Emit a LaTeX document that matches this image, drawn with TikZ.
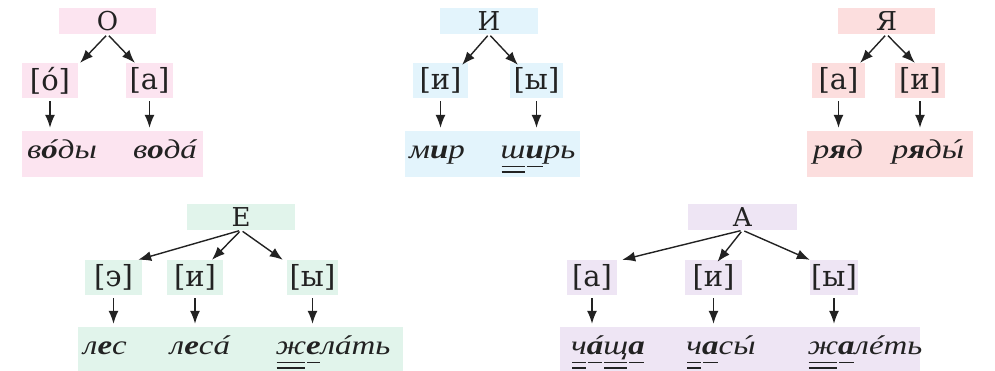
\documentclass[tikz,border=0pt]{standalone}
\usepackage{fontspec}
\setmainfont{DejaVu Serif}
\newfontfamily\wordfont[FakeStretch=1.22]{Liberation Serif}
\usepackage{xcolor}
\usepackage{tikz}
\usetikzlibrary{arrows.meta,positioning}

\definecolor{ink}{HTML}{222222}
\definecolor{pinkbg}{HTML}{FCE4F0}
\definecolor{bluebg}{HTML}{E3F4FC}
\definecolor{redbg}{HTML}{FCDEDE}
\definecolor{greenbg}{HTML}{E1F4EB}
\definecolor{lilacbg}{HTML}{EEE5F4}

\newcommand\lsz{\fontsize{26}{30}\selectfont}
\newcommand\ssz{\fontsize{29}{33}\selectfont}
\newcommand\wsz{\wordfont\fontsize{27}{32}\selectfont\itshape}
\newcommand\strs[1]{\setbox0\hbox{#1}\rlap{\hbox to\wd0{\hss\kern.2em\char"00B4\hss}}\box0}
\newcommand\vowl[1]{\setbox0\hbox{#1}\rlap{\hspace{1pt}\rule[-9pt]{\dimexpr\wd0-2pt\relax}{1.4pt}}\box0}
\newcommand\cons[1]{\setbox0\hbox{#1}\rlap{\hspace{1pt}\rule[-9pt]{\dimexpr\wd0-2pt\relax}{1.4pt}}\rlap{\hspace{1pt}\rule[-14.5pt]{\dimexpr\wd0-2pt\relax}{1.4pt}}\box0}

\begin{document}
\begin{tikzpicture}[x=1pt, y=-1pt,
    letter/.style={minimum height=26pt, inner sep=0pt, text=ink, font=\lsz},
    sound/.style={minimum height=35pt, inner sep=0pt, text=ink, font=\ssz},
    wordrow/.style={minimum height=46pt, inner sep=0pt},
    word/.style={anchor=base, inner sep=0pt, text=ink, font=\wsz},
    arrow/.style={-{Latex[length=13pt, width=10pt]}, line width=1.4pt, draw=ink},
    down/.style={arrow, shorten <=3pt, shorten >=3pt}
  ]
    \useasboundingbox (0,0) rectangle (995,370);

    \node[letter, fill=pinkbg, minimum width=97pt] (o) at (107.5,21) {О};
    \node[sound, fill=pinkbg, minimum width=56pt] (o1) at (50,80.5) {[о́]};
    \node[sound, fill=pinkbg, minimum width=47pt] (o2) at (149.5,80.5) {[а]};
    \node[wordrow, fill=pinkbg, minimum width=181pt] (ow) at (112.5,154) {};
    \node[word] (ow1) at (62,158) {в\strs{\textbf{о}}ды};
    \node[word] (ow2) at (165,158) {в\textbf{о}д\strs{а}};

    \node[letter, fill=bluebg, minimum width=98pt] (i) at (489,21) {И};
    \node[sound, fill=bluebg, minimum width=55pt] (i1) at (440.5,80.5) {[и]};
    \node[sound, fill=bluebg, minimum width=53pt] (i2) at (536.5,80.5) {[ы]};
    \node[wordrow, fill=bluebg, minimum width=175pt] (iw) at (492.5,154) {};
    \node[word] (iw1) at (437,158) {м\textbf{и}р};
    \node[word] (iw2) at (538,158) {\cons{ш}\vowl{\textbf{и}}рь};

    \node[letter, fill=redbg, minimum width=97pt] (ya) at (886.5,21) {Я};
    \node[sound, fill=redbg, minimum width=53pt] (ya1) at (838.5,80.5) {[а]};
    \node[sound, fill=redbg, minimum width=50pt] (ya2) at (920,80.5) {[и]};
    \node[wordrow, fill=redbg, minimum width=166pt] (yaw) at (890,154) {};
    \node[word] (yaw1) at (838,158) {р\textbf{я}д};
    \node[word] (yaw2) at (928,158) {р\textbf{я}д\strs{ы}};

    \node[letter, fill=greenbg, minimum width=108pt] (e) at (241,217) {Е};
    \node[sound, fill=greenbg, minimum width=57pt] (e1) at (113.5,277.5) {[э]};
    \node[sound, fill=greenbg, minimum width=56pt] (e2) at (195,277.5) {[и]};
    \node[sound, fill=greenbg, minimum width=51pt] (e3) at (312.5,277.5) {[ы]};
    \node[wordrow, fill=greenbg, minimum width=325pt] (ew) at (240.5,350) {};
    \node[word] (ew1) at (105,354) {л\textbf{е}с};
    \node[word] (ew2) at (200,354) {л\textbf{е}с\strs{а}};
    \node[word] (ew3) at (333,354) {\cons{ж}\vowl{\textbf{е}}л\strs{а}ть};

    \node[letter, fill=lilacbg, minimum width=109pt] (a) at (742.5,217) {А};
    \node[sound, fill=lilacbg, minimum width=50pt] (a1) at (592,277.5) {[а]};
    \node[sound, fill=lilacbg, minimum width=57pt] (a2) at (713.5,277.5) {[и]};
    \node[sound, fill=lilacbg, minimum width=48pt] (a3) at (834,277.5) {[ы]};
    \node[wordrow, fill=lilacbg, minimum width=360pt] (aw) at (740,350) {};
    \node[word] (aw1) at (608,354) {\cons{ч}\vowl{\strs{\textbf{а}}}\cons{щ}\vowl{\textbf{а}}};
    \node[word] (aw2) at (721,354) {\cons{ч}\vowl{\textbf{а}}с\strs{ы}};
    \node[word] (aw3) at (865,354) {\cons{ж}\vowl{\textbf{а}}л\strs{е}ть};

    \draw[arrow, shorten <=2pt] (o.south) -- ([xshift=2pt]o1.north east);
    \draw[arrow, shorten <=2pt] (o.south) -- ([xshift=9pt]o2.north west);
    \draw[down] (o1.south) -- (o1.south |- ow.north);
    \draw[down] (o2.south) -- (o2.south |- ow.north);

    \draw[arrow, shorten <=2pt] (i.south) -- ([xshift=-6pt, yshift=-2pt]i1.north east);
    \draw[arrow, shorten <=2pt] (i.south) -- ([xshift=8pt, yshift=-2pt]i2.north west);
    \draw[down] (i1.south) -- (i1.south |- iw.north);
    \draw[down] (i2.south) -- (i2.south |- iw.north);

    \draw[arrow, shorten <=2pt] (ya.south) -- ([xshift=-5pt]ya1.north east);
    \draw[arrow, shorten <=2pt] (ya.south) -- ([xshift=20pt]ya2.north west);
    \draw[down] (ya1.south) -- (ya1.south |- yaw.north);
    \draw[down] (ya2.south) -- (ya2.south |- yaw.north);

    \draw[arrow, shorten <=2pt] (e.south) -- ([xshift=-4pt]e1.north east);
    \draw[arrow, shorten <=2pt] (e.south) -- ([xshift=17pt]e2.north);
    \draw[arrow, shorten <=2pt] (e.south) -- ([xshift=-4pt]e3.north west);
    \draw[down] (e1.south) -- (e1.south |- ew.north);
    \draw[down] (e2.south) -- (e2.south |- ew.north);
    \draw[down] (e3.south) -- (e3.south |- ew.north);

    \draw[arrow, shorten <=2pt] (a.south) -- ([xshift=5pt]a1.north east);
    \draw[arrow, shorten <=2pt] (a.south) -- ([xshift=4pt, yshift=-2pt]a2.north);
    \draw[arrow, shorten <=2pt] (a.south) -- (a3.north west);
    \draw[down] (a1.south) -- (a1.south |- aw.north);
    \draw[down] (a2.south) -- (a2.south |- aw.north);
    \draw[down] (a3.south) -- (a3.south |- aw.north);
  \end{tikzpicture}
\end{document}
